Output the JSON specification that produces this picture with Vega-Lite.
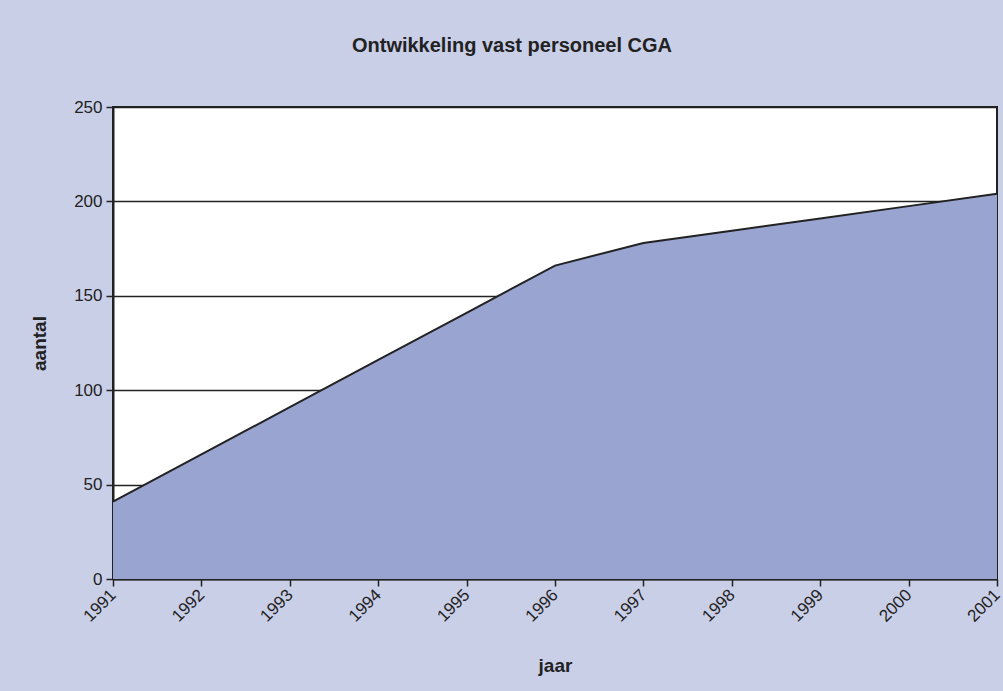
{
  "$schema": "https://vega.github.io/schema/vega-lite/v6.json",
  "width": 884,
  "height": 472,
  "autosize": {"type": "none"},
  "padding": {"left": 113, "top": 107, "right": 6, "bottom": 112},
  "background": "#CACFE8",
  "title": {
    "text": "Ontwikkeling vast personeel CGA",
    "font": "Liberation Sans",
    "fontSize": 20,
    "fontWeight": "bold",
    "color": "#222222",
    "anchor": "middle",
    "dx": -43,
    "offset": 42
  },
  "config": {
    "view": {"fill": "white", "stroke": "#222222", "strokeWidth": 2},
    "axis": {
      "labelFont": "Liberation Sans",
      "labelFontSize": 17,
      "labelColor": "#222222",
      "titleFont": "Liberation Sans",
      "titleFontSize": 19,
      "titleFontWeight": "bold",
      "titleColor": "#222222",
      "domainColor": "#222222",
      "domainWidth": 2,
      "tickColor": "#222222",
      "tickWidth": 1.5,
      "tickSize": 7
    }
  },
  "data": {
    "values": [
      {"jaar": 1991, "aantal": 41},
      {"jaar": 1992, "aantal": 66},
      {"jaar": 1993, "aantal": 91},
      {"jaar": 1994, "aantal": 116},
      {"jaar": 1995, "aantal": 141},
      {"jaar": 1996, "aantal": 166},
      {"jaar": 1997, "aantal": 178},
      {"jaar": 1998, "aantal": 184.5},
      {"jaar": 1999, "aantal": 191},
      {"jaar": 2000, "aantal": 197.5},
      {"jaar": 2001, "aantal": 204}
    ]
  },
  "encoding": {
    "x": {
      "field": "jaar",
      "type": "quantitative",
      "scale": {"domain": [1991, 2001], "nice": false, "zero": false},
      "axis": {
        "title": "jaar",
        "values": [1991, 1992, 1993, 1994, 1995, 1996, 1997, 1998, 1999, 2000, 2001],
        "format": "d",
        "labelAngle": -45,
        "labelAlign": "right",
        "labelBaseline": "middle",
        "labelPadding": 6,
        "grid": false,
        "titlePadding": 32,
        "labelFlush": false,
        "labelOverlap": false
      }
    },
    "y": {
      "field": "aantal",
      "type": "quantitative",
      "scale": {"domain": [0, 250], "nice": false},
      "axis": {
        "title": "aantal",
        "values": [0, 50, 100, 150, 200, 250],
        "grid": true,
        "gridColor": "#222222",
        "gridWidth": 1.5,
        "gridOpacity": 1,
        "labelPadding": 4,
        "titlePadding": 24
      }
    }
  },
  "layer": [
    {"mark": {"type": "area", "color": "#99A4D1", "opacity": 1}},
    {"mark": {"type": "line", "color": "#222222", "strokeWidth": 2}}
  ]
}
